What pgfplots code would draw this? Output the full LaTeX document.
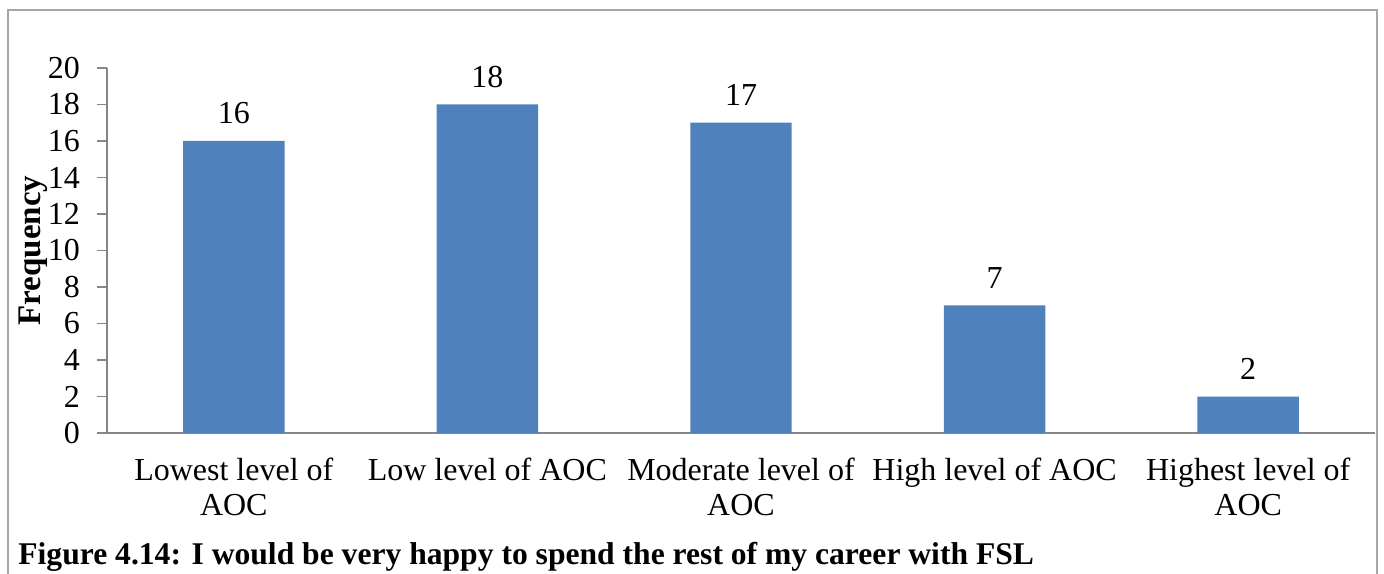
\documentclass[border=0pt]{standalone}
\usepackage{fontspec}
\setmainfont{Liberation Serif}
\usepackage{pgfplots}
\pgfplotsset{compat=1.18}
\definecolor{barblue}{HTML}{4F81BD}
\definecolor{axisgray}{HTML}{868686}
\definecolor{framegray}{HTML}{A6A6A6}

\begin{document}
\begin{tikzpicture}
  \useasboundingbox (0,0) rectangle (692pt,286.5pt);
  % chart frame, open at the bottom like the cropped original
  \draw[framegray, line width=1pt] (4pt,-5pt) rectangle (688.5pt,281.5pt);
  \begin{axis}[
      at={(53.5pt,70pt)}, anchor=south west,
      scale only axis, width=634pt, height=182.5pt,
      xmin=-0.5, xmax=4.5, ymin=0, ymax=20,
      axis lines*=left,
      axis line style={axisgray, line width=0.9pt},
      ytick={0,2,...,20},
      xtick={0,...,4},
      xticklabels={Lowest level of\\AOC, Low level of AOC, Moderate level of\\AOC, High level of AOC, Highest level of\\AOC},
      x tick style={draw=none},
      y tick style={axisgray, line width=0.9pt},
      tick align=outside, major tick length=5pt,
      extra x ticks={-0.5,0.5,...,4.5},
      extra x tick labels={},
      extra x tick style={tick style={axisgray, line width=0.9pt, draw=axisgray}, major tick length=5pt},
      tick label style={font=\fontsize{16}{17.5}\selectfont},
      xticklabel style={align=center, yshift=-4pt},
      yticklabel style={xshift=-5pt},
      /pgf/number format/assume math mode=true,
      ybar, bar width=0.4,
      nodes near coords,
      nodes near coords style={font=\fontsize{16}{17.5}\selectfont, yshift=5pt},
      clip=false,
    ]
    \addplot[fill=barblue, draw=none] coordinates {(0,16) (1,18) (2,17) (3,7) (4,2)};
    \node[rotate=90, font=\bfseries\fontsize{16.5}{18}\selectfont] at ([xshift=-37pt]rel axis cs:0,0.5) {Frequency};
  \end{axis}
  \node[anchor=base west, inner sep=0pt, font=\bfseries\fontsize{15.8}{18}\selectfont] at (9pt,4.5pt) {Figure 4.14: I would be very happy to spend the rest of my career with FSL};
\end{tikzpicture}
\end{document}
